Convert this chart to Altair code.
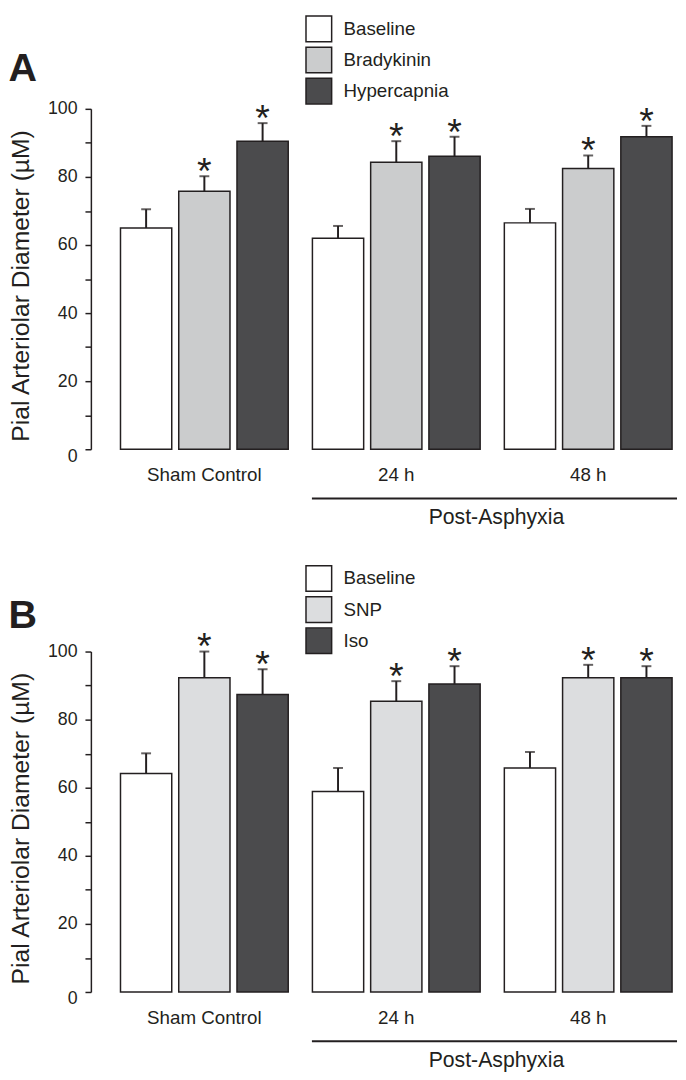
import altair as alt
import pandas as pd

groups = ["Sham Control", "24 h", "48 h"]

series_a = ["Baseline", "Bradykinin", "Hypercapnia"]
mean_a = [65.0, 75.8, 90.5, 62.0, 84.3, 86.1, 66.5, 82.5, 91.8]
err_a = [5.5, 4.4, 5.3, 3.6, 6.2, 5.7, 4.1, 3.8, 3.2]
colors_a = ["#ffffff", "#cbcccd", "#4b4b4d"]

series_b = ["Baseline", "SNP", "Iso"]
mean_b = [64.2, 92.3, 87.4, 58.9, 85.4, 90.5, 65.8, 92.3, 92.3]
err_b = [5.9, 7.7, 7.4, 6.9, 5.9, 5.2, 4.7, 3.8, 3.4]
colors_b = ["#ffffff", "#dcdddf", "#4b4b4d"]

sig = [False, True, True, False, True, True, False, True, True]

y_ticks = [0, 10, 20, 30, 40, 50, 60, 70, 80, 90, 100]
y_title = "Pial Arteriolar Diameter (µM)"
ink = "#231f20"
FONT = "Liberation Sans"


def make_df(series, means, errs):
    rows = []
    i = 0
    for g in groups:
        for s in series:
            rows.append({"group": g, "series": s, "mean": means[i],
                         "top": means[i] + errs[i], "sig": sig[i]})
            i += 1
    return pd.DataFrame(rows)


def panel(df, series, colors, letter, letter_y, legend_y):
    base = alt.Chart(df)
    x = alt.X("group:N", sort=groups,
              scale=alt.Scale(paddingInner=0.126, paddingOuter=0.09, align=0.857),
              axis=alt.Axis(title=None, domain=False, ticks=False, labelAngle=0,
                            labelFontSize=19, labelPadding=17, labelColor=ink,
                            labelFont=FONT))
    xo = alt.XOffset("series:N", sort=series,
                     scale=alt.Scale(paddingInner=0.12, paddingOuter=0))
    yscale = alt.Scale(domain=[0, 100], nice=False)
    yaxis = alt.Axis(values=y_ticks,
                     labelExpr="datum.value % 20 === 0 ? datum.label : ''",
                     grid=False, tickSize=6, tickWidth=1.5, tickColor=ink,
                     domainColor=ink, domainWidth=1.5,
                     labelFontSize=18, labelColor=ink, labelFont=FONT,
                     labelPadding=8,
                     labelOffset={"condition": {"test": "datum.value === 0", "value": 7}, "value": 0},
                     titleFontSize=25, titleFontWeight="normal",
                     titleColor=ink, titleFont=FONT,
                     titleX=-71, titleY=179, titleBaseline="middle")
    bars = base.mark_bar(stroke=ink, strokeWidth=1.5).encode(
        x=x, xOffset=xo,
        y=alt.Y("mean:Q", scale=yscale, title=y_title, axis=yaxis),
        fill=alt.Fill("series:N", sort=series,
                      scale=alt.Scale(domain=series, range=colors), legend=None),
    )
    err = base.mark_rule(strokeWidth=2, color=ink).encode(
        x=x, xOffset=xo,
        y=alt.Y("mean:Q", scale=yscale, title=y_title, axis=yaxis), y2="top:Q")
    caps = base.mark_tick(size=10, thickness=2, color=ink).encode(
        x=x, xOffset=xo, y=alt.Y("top:Q", scale=yscale, title=y_title, axis=yaxis))
    stars = base.transform_filter("datum.sig").mark_text(
        text="*", fontSize=38, dy=8, baseline="alphabetic", color=ink, font=FONT
    ).encode(x=x, xOffset=xo,
             y=alt.Y("top:Q", scale=yscale, title=y_title, axis=yaxis))

    one = alt.Data(values=[{"k": 1}])
    layers = [bars, err, caps, stars]

    # legend drawn as boxes + labels
    for i, (s, c) in enumerate(zip(series, colors)):
        top = legend_y + i * 31.5
        layers.append(alt.Chart(one).mark_rect(
            fill=c, stroke=ink, strokeWidth=1.5).encode(
            x=alt.value(218), x2=alt.value(244),
            y=alt.value(top), y2=alt.value(top + 26)))
        layers.append(alt.Chart(one).mark_text(
            text=s, fontSize=19, font=FONT, color=ink, align="left",
            baseline="middle").encode(x=alt.value(256), y=alt.value(top + 13)))

    layers.append(alt.Chart(one).mark_text(
        text=letter, fontSize=40, fontWeight="bold", font=FONT, color=ink,
        align="center", baseline="alphabetic"
    ).encode(x=alt.value(-69), y=alt.value(letter_y)))
    layers.append(alt.Chart(one).mark_rule(strokeWidth=2, color=ink).encode(
        x=alt.value(224), x2=alt.value(594), y=alt.value(395)))
    layers.append(alt.Chart(one).mark_text(
        text="Post-Asphyxia", fontSize=21.5, font=FONT, color=ink,
        align="center", baseline="middle"
    ).encode(x=alt.value(411), y=alt.value(415)))

    return alt.layer(*layers).properties(width=594, height=345)


pa = panel(make_df(series_a, mean_a, err_a), series_a, colors_a, "A", -28, -94)
pb = panel(make_df(series_b, mean_b, err_b), series_b, colors_b, "B", -24, -87)

chart = alt.vconcat(pa, pb, spacing=205, bounds="flush").resolve_scale(
    fill="independent", xOffset="independent").properties(
    padding=0).configure(font=FONT).configure_view(stroke=None)

chart.save("out.html", embed_options={"renderer": "svg", "actions": False})
